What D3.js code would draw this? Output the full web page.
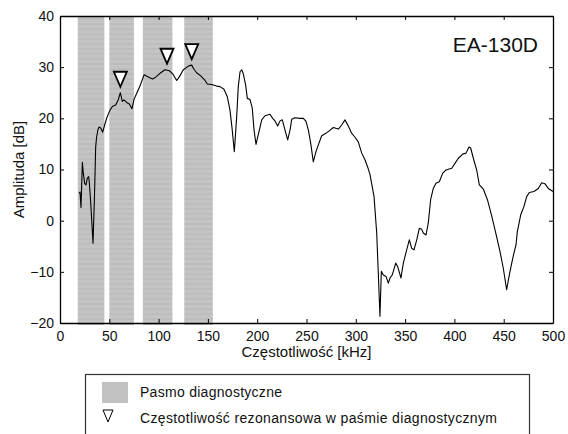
<!DOCTYPE html>
<html>
<head>
<meta charset="utf-8">
<script src="https://cdn.jsdelivr.net/npm/d3@7"></script>
<style>
  body { margin: 0; background: #fff; }
  text { font-family: "Liberation Sans", Arial, sans-serif; fill: #111; }
</style>
</head>
<body>
<script>
// dane
const freq = [19.3,20.3,21.3,22.7,23.5,25.0,26.4,27.7,29.1,29.8,31.0,33.5,35.0,36.2,37.2,38.5,39.6,41.3,43.3,45.0,
  47.3,50.7,53.1,56.5,59.2,61.2,63.2,64.9,67.6,70.3,73.0,75.1,77.8,81.1,85.2,89.6,94.0,97.4,101.4,106.5,
  110.9,114.3,118.3,121.0,125.1,130.2,133.6,135.9,138.6,142.7,147.1,149.4,153.8,158.9,162.3,166.3,169.7,172.4,174.7,176.8,
  179.2,180.8,182.6,184.3,185.9,188.3,190.0,192.7,195.0,196.8,198.8,201.1,204.6,207.9,213.0,215.7,218.0,220.8,223.1,225.5,
  228.2,230.9,233.3,235.0,238.3,243.4,246.8,249.5,251.9,254.3,256.9,259.6,262.0,265.4,268.8,272.1,277.2,282.3,285.7,289.0,
  292.4,295.8,299.2,302.5,306.0,309.3,312.0,314.4,318.5,321.2,323.2,324.5,325.9,327.9,330.6,333.0,334.7,337.0,340.5,342.5,
  345.8,348.2,351.6,354.3,356.7,359.0,361.8,364.4,366.8,368.5,371.2,373.5,375.9,378.6,381.3,384.7,388.2,391.5,397.3,400.6,
  404.0,408.4,411.8,414.8,416.5,419.2,422.6,425.3,429.4,433.5,438.0,442.4,446.2,449.6,453.0,455.7,459.2,462.5,463.8,467.2,
  470.6,473.3,476.0,480.7,485.1,488.5,491.9,495.2,500];
const amp = [5.4,5.6,2.6,11.4,9.5,7.3,7.0,8.3,8.6,7.3,4.0,-4.4,5.0,14.5,16.4,17.8,18.3,18.1,17.3,18.5,
  20.0,21.6,22.3,22.6,23.7,25.0,23.3,23.6,23.1,22.8,21.9,23.7,24.9,26.3,28.5,28.1,27.7,28.1,28.8,29.5,
  29.3,28.7,27.4,28.1,29.5,30.2,30.4,29.6,28.9,28.3,27.4,26.7,26.6,26.3,26.2,25.7,24.2,21.6,17.7,13.5,
  20.3,26.2,29.1,29.5,28.7,26.5,23.9,23.7,22.0,17.7,14.9,16.8,19.7,20.5,20.8,20.0,19.5,18.5,19.5,19.7,
  17.7,15.8,17.7,19.8,20.1,20.0,20.0,19.4,17.7,15.1,11.5,13.5,14.8,16.6,17.0,17.4,18.2,17.9,18.7,19.7,
  18.5,17.1,16.3,15.4,13.2,11.9,10.5,9.0,4.7,-2.4,-12.2,-18.7,-9.9,-10.6,-10.9,-12.2,-11.2,-10.6,-8.3,-9.0,
  -11.2,-8.3,-5.7,-3.75,-5.4,-5.7,-3.75,-1.5,-1.7,-2.4,-2.8,-0.5,4.1,6.3,7.3,7.6,9.3,9.9,10.25,11.2,
  12.2,13.0,13.2,14.4,14.2,12.2,9.9,7.0,6.15,4.1,0.8,-2.8,-6.0,-9.3,-13.5,-10.6,-7.3,-4.7,-2.2,1.1,
  2.8,4.7,5.5,5.7,6.3,7.4,7.2,6.3,5.7];

// pasma diagnostyczne [od, do] w kHz
const bandStart = [18, 50, 84, 126];
const bandEnd = [45, 75, 114, 155];

// częstotliwości rezonansowe
const resFreq = [61.2, 108.5, 133.6];
const resAmp = [25.0, 29.5, 30.4];

const xTicks = [0, 50, 100, 150, 200, 250, 300, 350, 400, 450, 500];
const yTicks = [-20, -10, 0, 10, 20, 30, 40];

const width = 568, height = 434;
const mLeft = 60, mRight = 553, mTop = 16, mBottom = 323;

const svg = d3.select("body").append("svg")
  .attr("width", width)
  .attr("height", height)
  .style("background", "#fff");

const x = d3.scaleLinear().domain([0, 500]).range([mLeft, mRight]);
const y = d3.scaleLinear().domain([-20, 40]).range([mBottom, mTop]);

// wzór pasków dla pasm
const defs = svg.append("defs");
const pat = defs.append("pattern")
  .attr("id", "stripes")
  .attr("patternUnits", "userSpaceOnUse")
  .attr("width", 8).attr("height", 5);
pat.append("rect").attr("width", 8).attr("height", 5).attr("fill", "#c4c4c4");
pat.append("rect").attr("y", 3).attr("width", 8).attr("height", 2).attr("fill", "#bdbdbd");

const bands = d3.range(bandStart.length).map(i => [bandStart[i], bandEnd[i]]);
svg.append("g").selectAll("rect")
  .data(bands)
  .enter()
  .append("rect")
  .attr("x", d => x(d[0]))
  .attr("width", d => x(d[1]) - x(d[0]))
  .attr("y", y(40) + 1)
  .attr("height", y(-20) - y(40) + 1)
  .attr("fill", "url(#stripes)");

// krzywa
const pts = freq.map((f, i) => [f, amp[i]]);
const line = d3.line().x(d => x(d[0])).y(d => y(d[1]));
svg.append("path")
  .datum(pts)
  .attr("d", line)
  .attr("fill", "none")
  .attr("stroke", "#000")
  .attr("stroke-width", 1.1)
  .attr("stroke-linejoin", "round");

// trójkąty
const tri = d3.range(resFreq.length).map(i => [resFreq[i], resAmp[i]]);
svg.append("g").selectAll("path")
  .data(tri)
  .enter()
  .append("path")
  .attr("d", d => {
    const cx = x(d[0]), ty = y(d[1]) - 6;
    return `M${cx},${ty} L${cx - 6.5},${ty - 15} L${cx + 6.5},${ty - 15} Z`;
  })
  .attr("fill", "#fff")
  .attr("stroke", "#000")
  .attr("stroke-width", 1.8)
  .attr("stroke-linejoin", "miter");

// osie
const axB = svg.append("g").attr("transform", `translate(0,${mBottom})`)
  .call(d3.axisBottom(x).tickValues(xTicks).tickSizeInner(-4).tickSizeOuter(0).tickPadding(8));
const axT = svg.append("g").attr("transform", `translate(0,${mTop})`)
  .call(d3.axisTop(x).tickValues(xTicks).tickSizeInner(-4).tickSizeOuter(0).tickFormat(""));
const axL = svg.append("g").attr("transform", `translate(${mLeft},0)`)
  .call(d3.axisLeft(y).tickValues(yTicks).tickSizeInner(-4).tickSizeOuter(0).tickPadding(6));
const axR = svg.append("g").attr("transform", `translate(${mRight},0)`)
  .call(d3.axisRight(y).tickValues(yTicks).tickSizeInner(-4).tickSizeOuter(0).tickFormat(""));

[axB, axT, axL, axR].forEach(a => {
  a.select(".domain").attr("stroke", "#000").attr("stroke-width", 1.3);
  a.selectAll(".tick line").attr("stroke", "#000");
  a.selectAll("text")
    .style("font-family", '"Liberation Sans", Arial, sans-serif')
    .style("font-size", "14px")
    .attr("fill", "#111");
});

// etykiety osi
svg.append("text")
  .attr("x", (mLeft + mRight) / 2)
  .attr("y", 357)
  .attr("text-anchor", "middle")
  .style("font-size", "15px")
  .text("Częstotliwość [kHz]");

svg.append("text")
  .attr("transform", `translate(24,${(mTop + mBottom) / 2}) rotate(-90)`)
  .attr("text-anchor", "middle")
  .style("font-size", "15px")
  .text("Amplituda [dB]");

svg.append("text")
  .attr("x", 538)
  .attr("y", 52)
  .attr("text-anchor", "end")
  .style("font-size", "21px")
  .text("EA-130D");

// legenda
const lg = svg.append("g");
lg.append("rect")
  .attr("x", 85.5).attr("y", 374.5)
  .attr("width", 444).attr("height", 70)
  .attr("fill", "#fff")
  .attr("stroke", "#333")
  .attr("stroke-width", 1.2);
lg.append("rect")
  .attr("x", 102).attr("y", 382)
  .attr("width", 26).attr("height", 21)
  .attr("fill", "#c2c2c2");
lg.append("text")
  .attr("x", 140).attr("y", 397)
  .style("font-size", "14px")
  .attr("textLength", 142)
  .attr("lengthAdjust", "spacing")
  .text("Pasmo diagnostyczne");
lg.append("path")
  .attr("d", "M108,422 L103,410 L113,410 Z")
  .attr("fill", "#fff")
  .attr("stroke", "#000")
  .attr("stroke-width", 1);
lg.append("text")
  .attr("x", 140).attr("y", 423)
  .style("font-size", "14px")
  .attr("textLength", 357)
  .attr("lengthAdjust", "spacing")
  .text("Częstotliwość rezonansowa w paśmie diagnostycznym");
</script>
</body>
</html>
